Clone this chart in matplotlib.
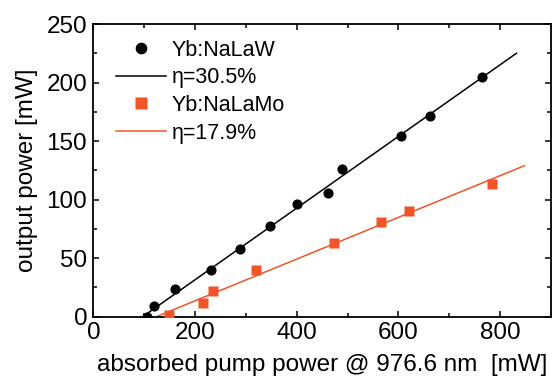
import matplotlib
matplotlib.use('Agg')
import matplotlib.pyplot as plt
from matplotlib.lines import Line2D
from matplotlib.ticker import MultipleLocator

plt.rcParams['font.family'] = ['Liberation Sans', 'DejaVu Sans']

# Yb:NaLaW data (absorbed pump power [mW], output power [mW])
naw_x = [106, 120, 161, 231, 289, 348, 401, 461, 488, 605, 661, 764]
naw_y = [0, 9, 24, 40, 58, 77, 96, 106, 126, 154, 171, 205]
# linear fit, eta = 30.5 %
naw_fit_x = [97, 832]
naw_fit_y = [0, 225]

# Yb:NaLaMo data
nam_x = [149, 216, 236, 319, 474, 566, 621, 783]
nam_y = [1, 12, 22, 40, 63, 81, 90, 113]
# linear fit, eta = 17.9 %
nam_fit_x = [124, 848]
nam_fit_y = [0, 129]

orange = '#F0552A'

fig = plt.figure(figsize=(5.53, 3.81), dpi=100)
ax = fig.add_axes([0.169, 0.169, 0.8274, 0.768])

ax.plot(naw_fit_x, naw_fit_y, color='black', lw=1.1, zorder=2)
ax.plot(nam_fit_x, nam_fit_y, color=orange, lw=1.1, zorder=2)
ax.plot(naw_x, naw_y, 'o', color='black', ms=7.3, mec='none', zorder=3)
ax.plot(nam_x, nam_y, 's', color=orange, ms=6.7, mec='none', zorder=3)

ax.set_xlim(0, 900)
ax.set_ylim(0, 250)
ax.xaxis.set_major_locator(MultipleLocator(200))
ax.xaxis.set_minor_locator(MultipleLocator(100))
ax.yaxis.set_major_locator(MultipleLocator(50))
ax.yaxis.set_minor_locator(MultipleLocator(25))
ax.tick_params(which='both', direction='in', top=True, right=True, width=1.1)
ax.tick_params(which='major', length=4.5, labelsize=17.5)
ax.tick_params(axis='x', which='major', pad=4)
ax.tick_params(axis='y', which='major', pad=4.5)
ax.tick_params(which='minor', length=3)
for s in ax.spines.values():
    s.set_linewidth(1.3)

ax.set_xlabel('absorbed pump power @ 976.6 nm  [mW]', fontsize=17.5, labelpad=7)
ax.set_ylabel('output power [mW]', fontsize=17.5, labelpad=6)

handles = [
    Line2D([], [], ls='none', marker='o', color='black', ms=8.4, mec='none'),
    Line2D([], [], color='black', lw=1.1),
    Line2D([], [], ls='none', marker='s', color=orange, ms=8.4, mec='none'),
    Line2D([], [], color=orange, lw=1.1),
]
labels = ['Yb:NaLaW', '\u03b7=30.5%', 'Yb:NaLaMo', '\u03b7=17.9%']
ax.legend(handles, labels, loc='upper left', bbox_to_anchor=(0.049, 0.947),
          frameon=False, fontsize=15.5, handlelength=2.33, handletextpad=0.27,
          labelspacing=0.31, borderaxespad=0, borderpad=0)

fig.savefig('out.png', dpi=100)
